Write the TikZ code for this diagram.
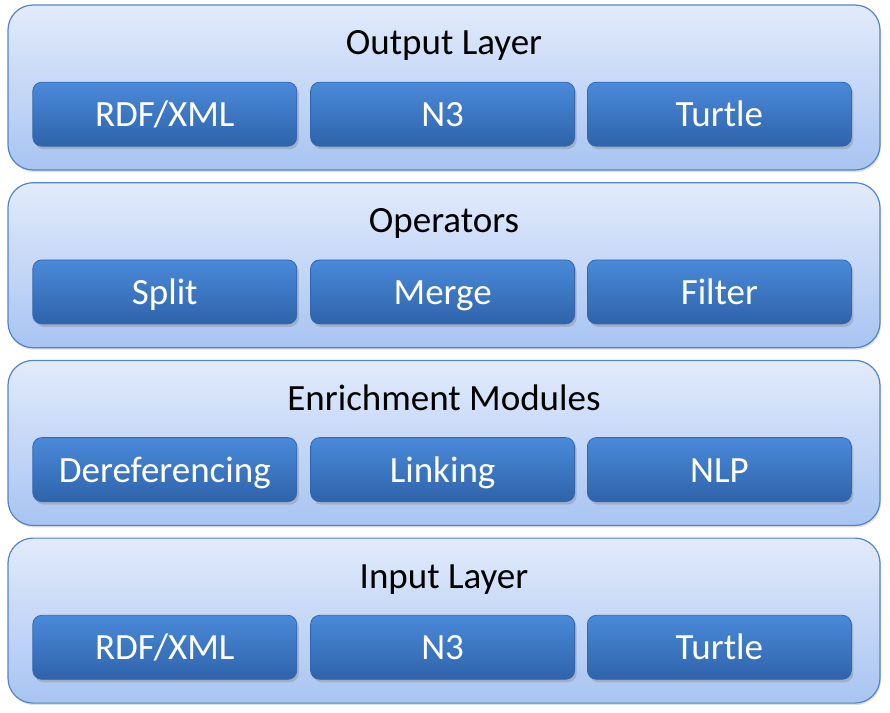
\documentclass[tikz,border=0pt]{standalone}
\usepackage{fontspec}
\setmainfont{Carlito}
\usepackage{xcolor}
\usepackage{tikz}
\usetikzlibrary{positioning, shadows, calc}

\definecolor{layerTop}{HTML}{E2EBFB}
\definecolor{layerBot}{HTML}{A8C4F2}
\definecolor{layerLine}{HTML}{5385C4}
\definecolor{itemTop}{HTML}{4A8ADA}
\definecolor{itemBot}{HTML}{2F63AA}
\definecolor{itemLine}{HTML}{3567AE}

\begin{document}
\begin{tikzpicture}[
    font=\fontsize{37}{44}\selectfont,
    layer/.style={rectangle, draw=layerLine, line width=1.2pt, top color=layerTop, bottom color=layerBot, rounded corners=25pt, minimum width=872pt, minimum height=165pt, inner sep=0pt, drop shadow={shadow xshift=1pt, shadow yshift=-2pt, opacity=0.25}},
    item/.style={rectangle, draw=itemLine, line width=0.8pt, top color=itemTop, bottom color=itemBot, rounded corners=9pt, minimum width=264pt, minimum height=64pt, inner sep=0pt, text=white, text height=29pt, text depth=4pt, drop shadow={shadow xshift=2pt, shadow yshift=-3pt, opacity=0.35}},
    title/.style={text=black, text height=26pt, text depth=7pt, inner sep=0pt},
]
    \useasboundingbox (0,0) rectangle (890pt,-712pt);

    % Layers
    \node[layer] (outL) at (444pt,-87.5pt) {};
    \node[layer, below=11.5pt of outL] (opL) {};
    \node[layer, below=11.5pt of opL] (enL) {};
    \node[layer, below=11.5pt of enL] (inL) {};

    % Output layer
    \node[title] at ($(outL.north)+(0,-41pt)$) {Output Layer};
    \node[item, above right=24pt and 25pt of outL.south west, anchor=south west] (outRdf) {RDF/XML};
    \node[item, right=13pt of outRdf] (outN3) {N3};
    \node[item, right=12pt of outN3] (outTtl) {Turtle};

    % Operators
    \node[title] at ($(opL.north)+(0,-41pt)$) {Operators};
    \node[item, above right=24pt and 25pt of opL.south west, anchor=south west] (opSplit) {Split};
    \node[item, right=13pt of opSplit] (opMerge) {Merge};
    \node[item, right=12pt of opMerge] (opFilter) {Filter};

    % Enrichment modules
    \node[title] at ($(enL.north)+(0,-41pt)$) {Enrichment Modules};
    \node[item, above right=24pt and 25pt of enL.south west, anchor=south west] (enDeref) {Dereferencing};
    \node[item, right=13pt of enDeref] (enLink) {Linking};
    \node[item, right=12pt of enLink] (enNlp) {NLP};

    % Input layer
    \node[title] at ($(inL.north)+(0,-41pt)$) {Input Layer};
    \node[item, above right=24pt and 25pt of inL.south west, anchor=south west] (inRdf) {RDF/XML};
    \node[item, right=13pt of inRdf] (inN3) {N3};
    \node[item, right=12pt of inN3] (inTtl) {Turtle};

\end{tikzpicture}
\end{document}
